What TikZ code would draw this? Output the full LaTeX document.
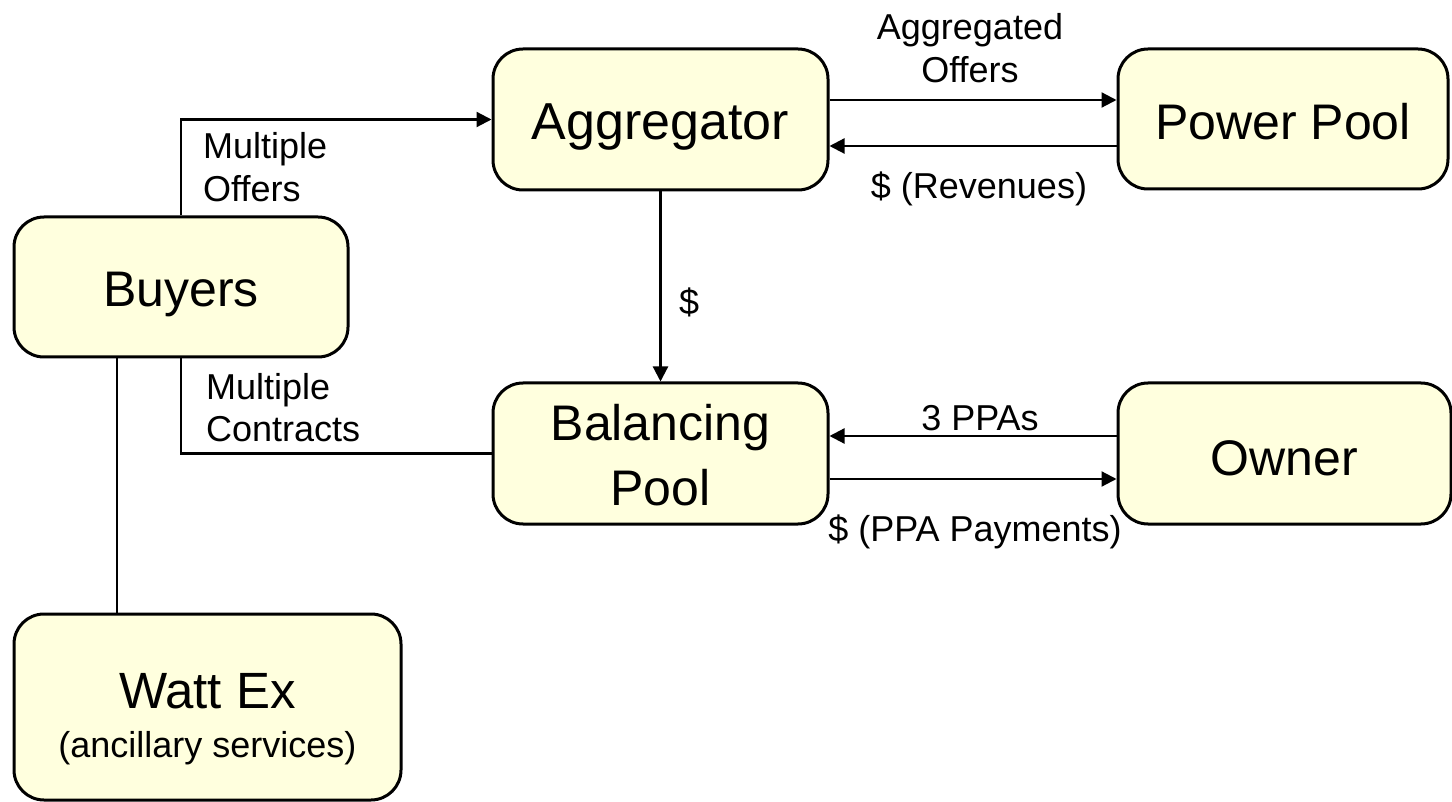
\documentclass[tikz,border=0pt]{standalone}
\usepackage{fontspec}
\setmainfont{Liberation Sans}
\usetikzlibrary{arrows.meta}
\definecolor{boxfill}{RGB}{255,255,222}
\begin{document}
\begin{tikzpicture}[x=1pt,y=-1pt,
  box/.style={draw, line width=3pt, rounded corners=30pt, fill=boxfill, inner sep=0pt, font=\fontsize{50}{66}\selectfont},
  conn/.style={line width=2.2pt},
  arr/.style={conn, -{Triangle[length=15pt,width=15pt]}},
  lbl/.style={inner sep=0pt, font=\fontsize{36}{43}\selectfont}]
\useasboundingbox (0,0) rectangle (1452,802);
% boxes
\node[box, minimum width=335pt, minimum height=141pt, text height=41pt, text depth=0pt] (agg) at (660.5,119.5) {\fontsize{52}{66}\selectfont Aggregator};
\node[box, minimum width=330pt, minimum height=140pt, text height=41pt, text depth=0pt] (pp) at (1283,119) {Power Pool};
\node[box, minimum width=334pt, minimum height=140pt, text height=40pt, text depth=0pt] (buy) at (181,287) {Buyers};
\node[box, minimum width=335pt, minimum height=141pt, text height=40pt, text depth=67pt] (bal) at (660.5,453.5) {\parbox[t]{320pt}{\centering Balancing\\Pool}};
\node[box, minimum width=333pt, minimum height=141pt, text height=43pt, text depth=0pt] (own) at (1284.5,453.5) {Owner};
\node[box, minimum width=387pt, minimum height=186pt, text height=45pt, text depth=43pt] (watt) at (207.5,707) {\parbox[t]{370pt}{\centering \fontsize{51}{49}\selectfont Watt Ex\\\fontsize{36}{49}\selectfont (ancillary services)}};
% helper coordinates
\coordinate (r100) at (0,100);
\coordinate (r146) at (0,146);
\coordinate (r436) at (0,436);
\coordinate (r479) at (0,479);
\coordinate (cwx) at (117,0);
% connectors
\draw[arr] (buy.north) |- (agg.west);
\draw[arr] (agg.east |- r100) -- (pp.west |- r100);
\draw[arr] (pp.west |- r146) -- (agg.east |- r146);
\draw[arr] (agg.south) -- (bal.north);
\draw[arr] (own.west |- r436) -- (bal.east |- r436);
\draw[arr] (bal.east |- r479) -- (own.west |- r479);
\draw[conn] (buy.south) |- (bal.west);
\draw[conn] (buy.south -| cwx) -- (watt.north -| cwx);
% labels
\node[lbl, anchor=base] (lAO) at (970,83) {\parbox[b]{250pt}{\centering Aggregated\\Offers}};
\node[lbl, anchor=base] (lRev) at (979,199) {\$ (Revenues)};
\node[lbl, anchor=base west] (lMO) at (203,202) {\parbox[b]{200pt}{Multiple\\Offers}};
\node[lbl, anchor=base west] (lMC) at (206,442) {\parbox[b]{200pt}{Multiple\\Contracts}};
\node[lbl, anchor=base west] (lD) at (679,315) {\$};
\node[lbl, anchor=base] (lPPA) at (980,430) {3 PPAs};
\node[lbl, anchor=base] (lPay) at (975,541) {\$ (PPA Payments)};
\end{tikzpicture}
\end{document}
